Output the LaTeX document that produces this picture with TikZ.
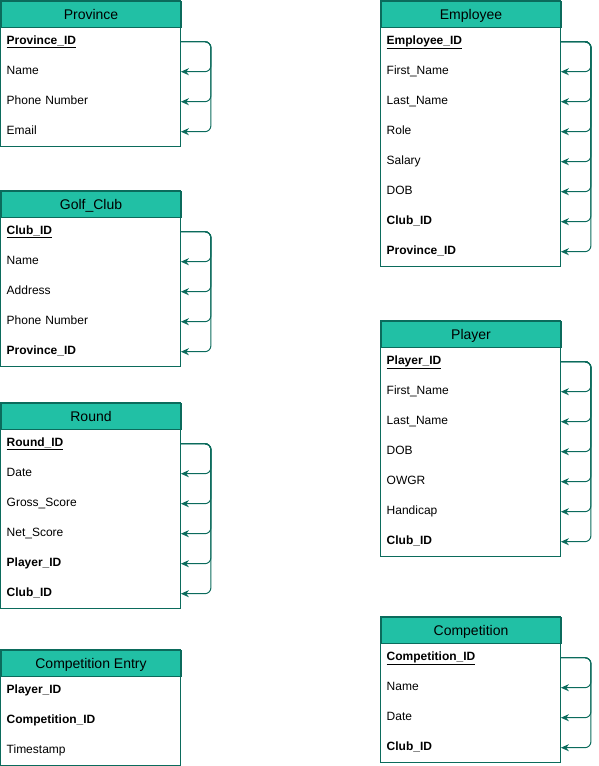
\documentclass[tikz,border=0pt]{standalone}
\usepackage{fontspec}
\setmainfont{Liberation Sans}
\usetikzlibrary{arrows.meta, positioning}

\definecolor{headfill}{HTML}{21C0A5}
\definecolor{tealline}{HTML}{0B6B5C}

\newcommand\pkey[1]{\underline{\textbf{#1}}}
% table: name, x, y, title, rows, fields
\newcommand\ertable[6]{%
  \node[tablehead] (#1-h) at (#2,#3) {#4};
  \foreach \f [count=\i] in {#6}
    \node[tablerow] (#1-\i) at (#2,{#3+26+30*(\i-1)}) {\f};
  \draw[tableframe] (#1-h.north west) rectangle (#1-#5.south east);
}

\begin{document}
\begin{tikzpicture}[
    x=1pt, y=-1pt,
    tablehead/.style={anchor=north west, draw=tealline, fill=headfill, line width=1pt,
      minimum width=180pt, minimum height=26pt, inner sep=0pt,
      text height=11pt, text depth=1pt,
      font=\fontsize{14}{16}\selectfont},
    tablerow/.style={anchor=north west, minimum height=30pt, text width=168pt,
      inner xsep=6pt, inner ysep=0pt, align=left,
      text height=9pt, text depth=3pt,
      font=\fontsize{12}{14}\selectfont},
    tableframe/.style={draw=tealline, line width=1pt},
    fkline/.style={draw=tealline, line width=1pt, rounded corners=6pt,
      -{Stealth[length=8pt, width=7pt]}}
  ]
  \useasboundingbox (0,0) rectangle (599,766);

  \ertable{prov}{0.5}{0.5}{Province}{4}%
    {{\pkey{Province\_ID}}, Name, Phone Number, Email}
  \ertable{club}{0.5}{190.5}{Golf\_Club}{5}%
    {{\pkey{Club\_ID}}, Name, Address, Phone Number, {\textbf{Province\_ID}}}
  \ertable{round}{0.5}{402.5}{Round}{6}%
    {{\pkey{Round\_ID}}, Date, Gross\_Score, Net\_Score, {\textbf{Player\_ID}}, {\textbf{Club\_ID}}}
  \ertable{entry}{0.5}{649.5}{Competition Entry}{3}%
    {{\textbf{Player\_ID}}, {\textbf{Competition\_ID}}, Timestamp}
  \ertable{emp}{380.5}{0.5}{Employee}{8}%
    {{\pkey{Employee\_ID}}, First\_Name, Last\_Name, Role, Salary, DOB, {\textbf{Club\_ID}}, {\textbf{Province\_ID}}}
  \ertable{player}{380.5}{320.5}{Player}{7}%
    {{\pkey{Player\_ID}}, First\_Name, Last\_Name, DOB, OWGR, Handicap, {\textbf{Club\_ID}}}
  \ertable{comp}{380.5}{616.5}{Competition}{4}%
    {{\pkey{Competition\_ID}}, Name, Date, {\textbf{Club\_ID}}}

  % key to field links
  \foreach \i in {2,...,4}
    \draw[fkline] (prov-1.east) -- ++(30,0) |- (prov-\i.east);
  \foreach \i in {2,...,5}
    \draw[fkline] (club-1.east) -- ++(30,0) |- (club-\i.east);
  \foreach \i in {2,...,6}
    \draw[fkline] (round-1.east) -- ++(30,0) |- (round-\i.east);
  \foreach \i in {2,...,8}
    \draw[fkline] (emp-1.east) -- ++(30,0) |- (emp-\i.east);
  \foreach \i in {2,...,7}
    \draw[fkline] (player-1.east) -- ++(30,0) |- (player-\i.east);
  \foreach \i in {2,...,4}
    \draw[fkline] (comp-1.east) -- ++(30,0) |- (comp-\i.east);
\end{tikzpicture}
\end{document}
